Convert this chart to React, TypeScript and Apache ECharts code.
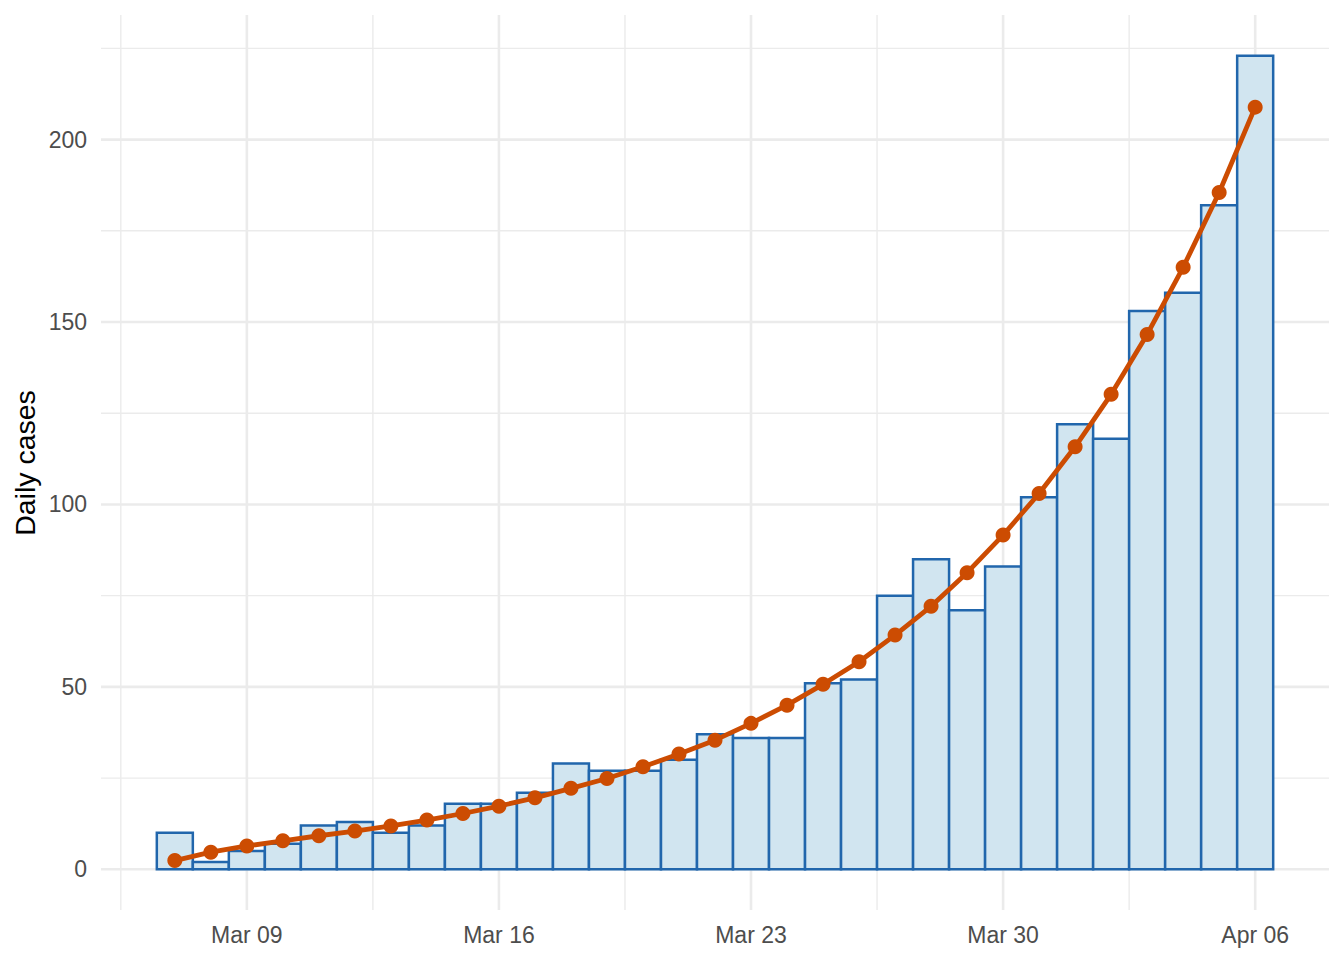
import React, { useEffect, useRef } from "react";
import * as echarts from "echarts";

const days = [
  "Mar 07", "Mar 08", "Mar 09", "Mar 10", "Mar 11", "Mar 12", "Mar 13", "Mar 14",
  "Mar 15", "Mar 16", "Mar 17", "Mar 18", "Mar 19", "Mar 20", "Mar 21", "Mar 22",
  "Mar 23", "Mar 24", "Mar 25", "Mar 26", "Mar 27", "Mar 28", "Mar 29", "Mar 30",
  "Mar 31", "Apr 01", "Apr 02", "Apr 03", "Apr 04", "Apr 05", "Apr 06",
];

const cases = [
  10, 2, 5, 7, 12, 13, 10, 12, 18, 18, 21, 29, 27, 27, 30, 37, 36, 36, 51, 52,
  75, 85, 71, 83, 102, 122, 118, 153, 158, 182, 223,
];

const fitted = [
  2.4, 4.7, 6.4, 7.8, 9.2, 10.5, 11.9, 13.5, 15.3, 17.3, 19.6, 22.2, 24.9, 28.1,
  31.6, 35.4, 40.0, 45.0, 50.7, 56.9, 64.2, 72.1, 81.3, 91.6, 103.0, 115.8,
  130.2, 146.6, 165.0, 185.5, 208.9,
];

const xTickLabels = ["Mar 09", "Mar 16", "Mar 23", "Mar 30", "Apr 06"];
const yTicks = [0, 50, 100, 150, 200];
const yMinorTicks = [25, 75, 125, 175, 225];

const BAR_FILL = "#D1E5F0";
const BAR_STROKE = "#2166AC";
const LINE_COLOR = "#CC4C02";
const GRID_COLOR = "#EBEBEB";
const FONT = "'Liberation Sans', Arial, Helvetica, sans-serif";

export default function App() {
  const ref = useRef<HTMLDivElement>(null);

  useEffect(() => {
    if (!ref.current) return;
    const chart = echarts.init(ref.current, undefined, { renderer: "svg" });

    const n = days.length;
    const xMin = -0.5 - 0.05 * n;
    const xMax = n - 0.5 + 0.05 * n;
    const yTop = Math.max(...cases);
    const yMin = -0.05 * yTop;
    const yMax = yTop * 1.05;

    const xTickValues = xTickLabels.map((l) => days.indexOf(l));
    const xMinorTicks = xTickValues.map((v) => v - 3.5);

    type G = { dir: "v" | "h"; v: number; w: number };
    const gridItems: G[] = [
      ...yMinorTicks.map((v) => ({ dir: "h" as const, v, w: 1.4 })),
      ...xMinorTicks.map((v) => ({ dir: "v" as const, v, w: 1.4 })),
      ...yTicks.map((v) => ({ dir: "h" as const, v, w: 2.6 })),
      ...xTickValues.map((v) => ({ dir: "v" as const, v, w: 2.6 })),
    ];

    const option: any = {
      animation: false,
      backgroundColor: "#FFFFFF",
      grid: {
        left: 101,
        right: 15,
        top: 15,
        bottom: 50,
        containLabel: false,
        outerBoundsMode: "none",
      },
      xAxis: {
        type: "value",
        min: xMin,
        max: xMax,
        axisLine: { show: false },
        axisTick: { show: false },
        splitLine: { show: false },
        axisLabel: {
          customValues: xTickValues,
          formatter: (v: number) => days[Math.round(v)] ?? "",
          fontSize: 23,
          color: "#4D4D4D",
          fontFamily: FONT,
          margin: 13,
          showMinLabel: true,
          showMaxLabel: true,
        },
      },
      yAxis: {
        type: "value",
        min: yMin,
        max: yMax,
        axisLine: { show: false },
        axisTick: { show: false },
        splitLine: { show: false },
        axisLabel: {
          customValues: yTicks,
          formatter: (v: number) => String(Math.round(v)),
          fontSize: 23,
          color: "#4D4D4D",
          fontFamily: FONT,
          margin: 14,
        },
      },
      graphic: [
        {
          type: "text",
          x: 25,
          y: 463,
          rotation: Math.PI / 2,
          style: {
            text: "Daily cases",
            fontSize: 28.5,
            fontFamily: FONT,
            fill: "#000000",
            align: "center",
            verticalAlign: "middle",
          },
        },
      ],
      series: [
        {
          type: "custom",
          name: "grid",
          silent: true,
          z: 1,
          data: gridItems.map((g) => [g.dir === "v" ? g.v : xMin, g.dir === "h" ? g.v : yMin]),
          encode: { x: 0, y: 1 },
          renderItem: (params: any, api: any) => {
            const g = gridItems[params.dataIndex];
            let p1, p2;
            if (g.dir === "v") {
              p1 = api.coord([g.v, yMin]);
              p2 = api.coord([g.v, yMax]);
            } else {
              p1 = api.coord([xMin, g.v]);
              p2 = api.coord([xMax, g.v]);
            }
            return {
              type: "line",
              shape: { x1: p1[0], y1: p1[1], x2: p2[0], y2: p2[1] },
              style: { stroke: GRID_COLOR, lineWidth: g.w },
            };
          },
        },
        {
          type: "custom",
          name: "Daily cases",
          z: 2,
          data: cases.map((c, i) => [i, c]),
          encode: { x: 0, y: 1 },
          renderItem: (params: any, api: any) => {
            const x = api.value(0);
            const y = api.value(1);
            const p0 = api.coord([x - 0.5, y]);
            const p1 = api.coord([x + 0.5, 0]);
            return {
              type: "rect",
              shape: { x: p0[0], y: p0[1], width: p1[0] - p0[0], height: p1[1] - p0[1] },
              style: { fill: BAR_FILL, stroke: BAR_STROKE, lineWidth: 2.5 },
            };
          },
        },
        {
          type: "line",
          name: "Fitted",
          z: 3,
          data: fitted.map((f, i) => [i, f]),
          symbol: "circle",
          symbolSize: 15,
          showSymbol: true,
          lineStyle: { color: LINE_COLOR, width: 4.8 },
          itemStyle: { color: LINE_COLOR },
          clip: false,
        },
      ],
    };

    chart.setOption(option);
    return () => chart.dispose();
  }, []);

  return (
    <div
      ref={ref}
      style={{ position: "absolute", left: 0, top: 0, width: 1344, height: 960 }}
    />
  );
}
